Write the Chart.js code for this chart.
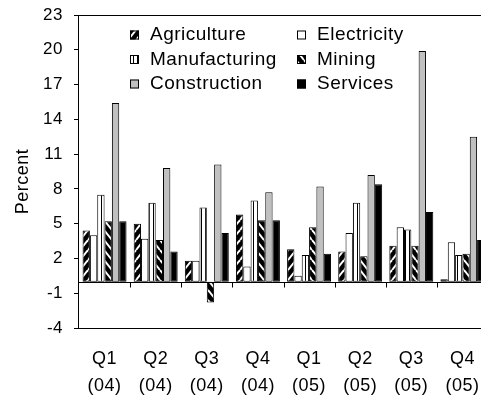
<!DOCTYPE html>
<html>
<head>
<meta charset="utf-8">
<title>Growth by sector</title>
<script src="https://cdn.jsdelivr.net/npm/chart.js@4.4.1/dist/chart.umd.min.js"></script>
<style>
  html, body { margin: 0; padding: 0; background: #fff; overflow: hidden; }
  #wrap { width: 496px; height: 398px; }
</style>
</head>
<body>
<div id="wrap"><canvas id="sectors"></canvas></div>
<script>
// quarterly growth, percent
const quarters = [['Q1', '(04)'], ['Q2', '(04)'], ['Q3', '(04)'], ['Q4', '(04)'],
                  ['Q1', '(05)'], ['Q2', '(05)'], ['Q3', '(05)'], ['Q4', '(05)']];
const agriculture   = [4.4, 5.0, 1.8, 5.8, 2.8, 2.6, 3.1, 0.2];
const electricity   = [4.0, 3.7, 1.8, 1.3, 0.5, 4.2, 4.7, 3.4];
const manufacturing = [7.5, 6.8, 6.4, 7.0, 2.3, 6.8, 4.5, 2.3];
const mining        = [5.2, 3.6, -1.8, 5.3, 4.7, 2.2, 3.1, 2.4];
const construction  = [15.4, 9.8, 10.1, 7.7, 8.2, 9.2, 19.9, 12.5];
const services      = [5.2, 2.6, 4.2, 5.3, 2.4, 8.4, 6.0, 3.6];
const yMin = -4, yMax = 23, yStep = 3;

const FONT = 'Liberation Sans, Arial, sans-serif';

function diagonal(up) {
    const c = document.createElement('canvas');
    c.width = 8; c.height = 10;
    const g = c.getContext('2d');
    g.fillStyle = '#000';
    g.fillRect(0, 0, 8, 10);
    g.strokeStyle = '#fff';
    g.lineWidth = 2;
    for (const dx of [-8, 0, 8]) {
        g.beginPath();
        if (up) { g.moveTo(dx, 10); g.lineTo(dx + 8, 0); }
        else { g.moveTo(dx, 0); g.lineTo(dx + 8, 10); }
        g.stroke();
    }
    return g.createPattern(c, 'repeat');
}

function vertical() {
    const c = document.createElement('canvas');
    c.width = 4; c.height = 4;
    const g = c.getContext('2d');
    g.fillStyle = '#fff';
    g.fillRect(0, 0, 4, 4);
    g.fillStyle = '#000';
    g.fillRect(1, 0, 1, 4);
    return g.createPattern(c, 'repeat');
}

const series = [
    { label: 'Agriculture', data: agriculture, fill: diagonal(true) },
    { label: 'Electricity', data: electricity, fill: '#fff' },
    { label: 'Manufacturing', data: manufacturing, fill: vertical() },
    { label: 'Mining', data: mining, fill: diagonal(false) },
    { label: 'Construction', data: construction, fill: '#c0c0c0' },
    { label: 'Services', data: services, fill: '#000' },
];

// plot frame, zero axis with category ticks, legend and y title
const decorations = {
    id: 'decorations',
    beforeDraw(chart) {
        chart.ctx.letterSpacing = '0.5px';
    },
    afterDatasetsDraw(chart) {
        const { ctx, chartArea: a, scales: { y } } = chart;
        ctx.save();
        ctx.strokeStyle = '#000';
        ctx.lineWidth = 1;
        ctx.strokeRect(a.left - 0.5, a.top + 0.5, a.right - a.left, a.bottom - a.top);
        const y0 = Math.round(y.getPixelForValue(0)) + 0.5;
        const step = (a.right - a.left) / quarters.length;
        ctx.beginPath();
        ctx.moveTo(a.left, y0);
        ctx.lineTo(a.right, y0);
        for (let i = 1; i <= quarters.length; i++) {
            const px = Math.round(a.left + i * step) + 0.5;
            ctx.moveTo(px, y0);
            ctx.lineTo(px, y0 + 5);
        }
        ctx.stroke();
        ctx.restore();
    },
    afterDraw(chart) {
        const { ctx, chartArea: a } = chart;
        ctx.save();
        ctx.letterSpacing = '0.5px';
        ctx.font = '19px ' + FONT;
        ctx.fillStyle = '#000';
        ctx.textBaseline = 'middle';
        chart.data.datasets.forEach((ds, i) => {
            const bx = a.left + 51 + (i % 2) * 167;
            const by = a.top + 20 + Math.floor(i / 2) * 24.5;
            ctx.fillStyle = ds.backgroundColor;
            ctx.fillRect(bx, by - 4.5, 9, 9);
            ctx.strokeStyle = '#000';
            ctx.strokeRect(bx + 0.5, by - 4, 8, 8);
            ctx.fillStyle = '#000';
            ctx.textAlign = 'left';
            ctx.fillText(ds.label, bx + 20, by);
        });

        // y axis title
        ctx.font = '18px ' + FONT;
        ctx.translate(23, (a.top + a.bottom) / 2 + 10);
        ctx.rotate(-Math.PI / 2);
        ctx.textAlign = 'center';
        ctx.fillText('Percent', 0, 0);
        ctx.restore();
    }
};

new Chart(document.getElementById('sectors'), {
    type: 'bar',
    data: {
        labels: quarters,
        datasets: series.map(s => ({
            label: s.label,
            data: s.data,
            backgroundColor: s.fill,
            borderColor: '#000',
            borderWidth: 1,
            borderSkipped: false,
            categoryPercentage: 0.86,
            barPercentage: 1.0,
        })),
    },
    options: {
        responsive: true,
        maintainAspectRatio: false,
        animation: false,
        layout: { padding: { top: 15, right: 8, left: 0, bottom: 0 } },
        plugins: {
            legend: { display: false },
            tooltip: { enabled: false },
        },
        scales: {
            x: {
                grid: { display: false, drawTicks: false },
                border: { display: false },
                ticks: {
                    color: '#000',
                    font: { family: FONT, size: 18, lineHeight: 1.5 },
                    padding: 18,
                    maxRotation: 0,
                    autoSkip: false,
                },
                afterFit: (s) => {
                    s.height = 70;
                    s.paddingLeft = 0;
                    s.paddingRight = 0;
                },
            },
            y: {
                min: yMin,
                max: yMax,
                ticks: {
                    stepSize: yStep,
                    color: '#000',
                    font: { family: FONT, size: 17 },
                    padding: 11,
                },
                grid: { drawOnChartArea: false, color: '#000', tickLength: 5 },
                border: { display: false },
                afterFit: (s) => {
                    s.width = 79;
                    s.paddingTop = 0;
                    s.paddingBottom = 0;
                },
            },
        },
    },
    plugins: [decorations],
});
</script>
</body>
</html>
